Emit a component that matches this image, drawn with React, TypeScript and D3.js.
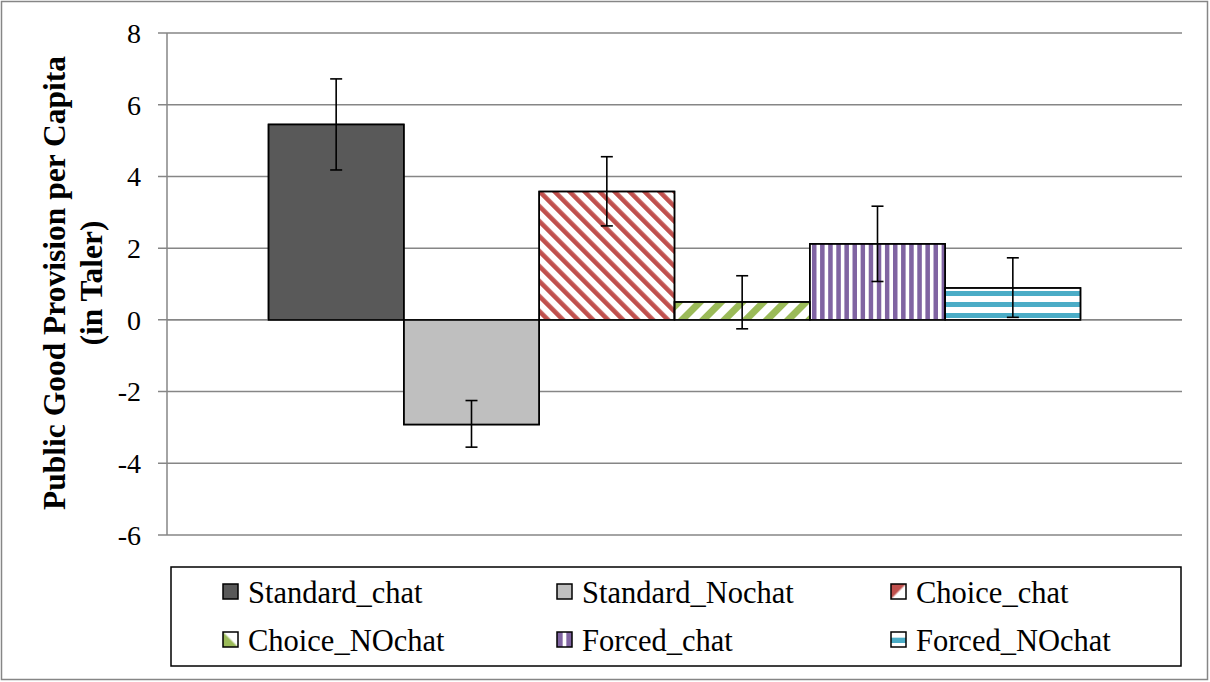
import React from "react";
import * as d3 from "d3";

const seriesNames = ["Standard_chat", "Standard_Nochat", "Choice_chat", "Choice_NOchat", "Forced_chat", "Forced_NOchat"];
const values = [5.45, -2.92, 3.58, 0.5, 2.12, 0.89];
const errLow = [4.18, -3.55, 2.62, -0.25, 1.07, 0.07];
const errHigh = [6.72, -2.25, 4.55, 1.23, 3.17, 1.73];
const yTicks = [-6, -4, -2, 0, 2, 4, 6, 8];
const fills = ["#595959", "#BFBFBF", "url(#pRed)", "url(#pGreen)", "url(#pPurple)", "url(#pBlue)"];
const legendFills = ["#595959", "#BFBFBF", "url(#lRed)", "url(#lGreen)", "url(#lPurple)", "url(#lBlue)"];

const W = 1210, H = 682;
const plotL = 167, plotR = 1182, plotT = 33, plotB = 535;
const FONT = "'Liberation Serif', 'Times New Roman', serif";
const fontStyle = { fontFamily: FONT };

export default function App() {
  const y = d3.scaleLinear().domain([-6, 8]).range([plotB, plotT]);
  const groupStart = plotL + (plotR - plotL) * 0.1;
  const groupEnd = plotR - (plotR - plotL) * 0.1;
  const x = d3.scaleBand().domain(seriesNames).range([groupStart, groupEnd]).padding(0);
  const legCols = d3.scaleBand().domain(["0", "1", "2"]).range([223, 223 + 334 * 3]);
  const legRows = [592, 640];

  return (
    <svg width={W} height={H} style={{ position: "absolute", left: 0, top: 0, background: "#fff" }}>
      <defs>
        <pattern id="pRed" patternUnits="userSpaceOnUse" width={10.6} height={10.6} patternTransform="rotate(-45)">
          <rect width={10.6} height={10.6} fill="#fff" />
          <rect width={4.6} height={10.6} fill="#C0504D" />
        </pattern>
        <pattern id="pGreen" patternUnits="userSpaceOnUse" width={15} height={15} patternTransform="rotate(45)">
          <rect width={15} height={15} fill="#fff" />
          <rect width={7} height={15} fill="#9BBB59" />
        </pattern>
        <pattern id="pPurple" patternUnits="userSpaceOnUse" width={8.1} height={8} x={812}>
          <rect width={8.1} height={8} fill="#fff" />
          <rect width={4.5} height={8} fill="#8064A2" />
        </pattern>
        <pattern id="pBlue" patternUnits="userSpaceOnUse" width={8} height={11} y={291}>
          <rect width={8} height={11} fill="#fff" />
          <rect width={8} height={5} fill="#4BACC6" />
        </pattern>
        <linearGradient id="lRed" x1="0" y1="0" x2="1" y2="1">
          <stop offset="0.45" stopColor="#C0504D" />
          <stop offset="0.55" stopColor="#fff" />
        </linearGradient>
        <linearGradient id="lGreen" x1="1" y1="0" x2="0" y2="1">
          <stop offset="0.45" stopColor="#fff" />
          <stop offset="0.55" stopColor="#9BBB59" />
        </linearGradient>
        <linearGradient id="lPurple" x1="0" y1="0" x2="1" y2="0">
          <stop offset="0" stopColor="#8064A2" />
          <stop offset="0.35" stopColor="#8064A2" />
          <stop offset="0.4" stopColor="#fff" />
          <stop offset="0.6" stopColor="#fff" />
          <stop offset="0.65" stopColor="#8064A2" />
          <stop offset="1" stopColor="#8064A2" />
        </linearGradient>
        <linearGradient id="lBlue" x1="0" y1="0" x2="0" y2="1">
          <stop offset="0" stopColor="#fff" />
          <stop offset="0.35" stopColor="#fff" />
          <stop offset="0.4" stopColor="#4BACC6" />
          <stop offset="0.7" stopColor="#4BACC6" />
          <stop offset="0.75" stopColor="#fff" />
          <stop offset="1" stopColor="#fff" />
        </linearGradient>
      </defs>
      <rect x={1.5} y={1.5} width={W - 4} height={H - 4} fill="#fff" stroke="#868686" strokeWidth={1.5} />

      {/* gridlines */}
      {yTicks.map((t) => (
        <g key={t}>
          <line x1={plotL - 9} x2={plotR} y1={y(t)} y2={y(t)} stroke="#868686" strokeWidth={1.5} />
          <text x={141} y={y(t)} dy="0.35em" textAnchor="end" fontSize={28} fill="#000" style={fontStyle}>{t}</text>
        </g>
      ))}
      <line x1={plotL} x2={plotL} y1={plotT} y2={plotB} stroke="#868686" strokeWidth={1.5} />

      {/* bars */}
      {seriesNames.map((s, i) => {
        const v = values[i];
        const y0 = y(Math.max(0, v));
        const y1 = y(Math.min(0, v));
        return (
          <rect key={s} x={x(s)} y={y0} width={x.bandwidth()} height={y1 - y0} fill={fills[i]} stroke="#000" strokeWidth={1.5} />
        );
      })}
      <line x1={plotL} x2={plotR} y1={y(0)} y2={y(0)} stroke="#868686" strokeWidth={1.5} />
      {seriesNames.map((s, i) => {
        const v = values[i];
        const y0 = y(Math.max(0, v));
        const y1 = y(Math.min(0, v));
        return (
          <rect key={s + "o"} x={x(s)} y={y0} width={x.bandwidth()} height={y1 - y0} fill="none" stroke="#000" strokeWidth={1.5} />
        );
      })}

      {/* error bars */}
      {seriesNames.map((s, i) => {
        const cx = (x(s) as number) + x.bandwidth() / 2;
        return (
          <g key={s + "e"} stroke="#000" strokeWidth={1.6}>
            <line x1={cx} x2={cx} y1={y(errLow[i])} y2={y(errHigh[i])} />
            <line x1={cx - 6} x2={cx + 6} y1={y(errLow[i])} y2={y(errLow[i])} />
            <line x1={cx - 6} x2={cx + 6} y1={y(errHigh[i])} y2={y(errHigh[i])} />
          </g>
        );
      })}

      {/* y label */}
      <g transform={`translate(0, 283) rotate(-90)`}>
        <text x={0} y={65} textAnchor="middle" fontSize={31.5} fontWeight="bold" style={fontStyle}>Public Good Provision per Capita</text>
        <text x={0} y={102} textAnchor="middle" fontSize={31.5} fontWeight="bold" style={fontStyle}>(in Taler)</text>
      </g>

      {/* legend */}
      <rect x={171} y={567} width={1010} height={99} fill="#fff" stroke="#000" strokeWidth={1.5} />
      {seriesNames.map((s, i) => {
        const col = i % 3;
        const row = Math.floor(i / 3);
        const lx = legCols(String(col)) as number;
        const ly = legRows[row];
        return (
          <g key={s + "l"}>
            <rect x={lx} y={ly - 8} width={15} height={15} fill={legendFills[i]} stroke="#000" strokeWidth={1.5} />
            <text x={lx + 25} y={ly} dy="0.35em" fontSize={30.5} style={fontStyle}>{s}</text>
          </g>
        );
      })}
    </svg>
  );
}
